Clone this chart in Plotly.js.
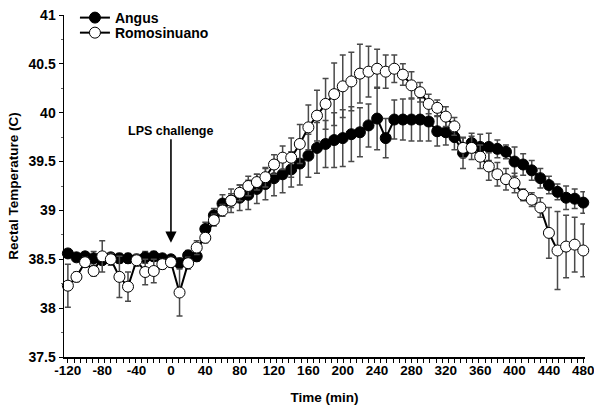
<!DOCTYPE html>
<html>
<head>
<meta charset="utf-8">
<script src="https://cdn.plot.ly/plotly-3.0.1.min.js"></script>
<style>
html,body{margin:0;padding:0;background:#fff;}
#chart{width:594px;height:415px;}
</style>
</head>
<body>
<div id="chart"></div>
<script>
const timeMin = [-120,-110,-100,-90,-80,-70,-60,-50,-40,-30,-20,-10,0,10,20,30,40,50,60,70,80,90,100,110,120,130,140,150,160,170,180,190,200,210,220,230,240,250,260,270,280,290,300,310,320,330,340,350,360,370,380,390,400,410,420,430,440,450,460,470,480];

const angusTemp = [38.56,38.52,38.53,38.51,38.49,38.52,38.51,38.51,38.50,38.52,38.53,38.51,38.50,38.46,38.54,38.53,38.81,38.95,39.07,39.10,39.13,39.16,39.22,39.27,39.33,39.37,39.42,39.48,39.56,39.64,39.68,39.72,39.74,39.78,39.80,39.87,39.94,39.74,39.93,39.93,39.93,39.93,39.91,39.81,39.80,39.75,39.59,39.69,39.65,39.65,39.63,39.60,39.50,39.47,39.41,39.33,39.26,39.19,39.13,39.12,39.08];
const angusSE = [0.04,0.04,0.03,0.07,0.04,0.04,0.05,0.05,0.04,0.06,0.05,0.04,0.04,0.05,0.05,0.05,0.07,0.07,0.09,0.12,0.13,0.15,0.15,0.16,0.18,0.19,0.18,0.22,0.22,0.26,0.24,0.28,0.29,0.28,0.25,0.22,0.32,0.20,0.20,0.21,0.22,0.22,0.20,0.15,0.13,0.13,0.16,0.10,0.13,0.14,0.09,0.07,0.15,0.11,0.10,0.10,0.09,0.08,0.12,0.10,0.11];

const romoTemp = [38.23,38.32,38.47,38.38,38.53,38.50,38.32,38.22,38.49,38.37,38.38,38.45,38.47,38.16,38.46,38.62,38.72,38.90,39.00,39.10,39.18,39.25,39.29,39.34,39.47,39.54,39.54,39.68,39.85,39.97,40.09,40.19,40.27,40.32,40.40,40.42,40.45,40.42,40.45,40.39,40.28,40.21,40.09,40.05,39.96,39.86,39.64,39.64,39.55,39.45,39.37,39.32,39.28,39.16,39.11,39.03,38.77,38.59,38.63,38.65,38.59];
const romoSE = [0.22,0.05,0.05,0.05,0.16,0.06,0.21,0.15,0.06,0.13,0.12,0.05,0.05,0.24,0.06,0.07,0.05,0.06,0.06,0.07,0.08,0.10,0.08,0.10,0.10,0.12,0.20,0.20,0.23,0.26,0.26,0.32,0.32,0.30,0.30,0.26,0.20,0.17,0.14,0.11,0.14,0.10,0.10,0.08,0.10,0.09,0.10,0.12,0.12,0.14,0.12,0.11,0.10,0.06,0.07,0.10,0.26,0.40,0.32,0.28,0.27];

const seriesNames = ["Angus", "Romosinuano"];
const xTickVals = [-120,-80,-40,0,40,80,120,160,200,240,280,320,360,400,440,480];
const xTickText = ["-120","-80","-40","0","40","80","120","160","200","240","280","320","360","400","440","480"];
const yTickVals = [37.5,38,38.5,39,39.5,40,40.5,41];
const yTickText = ["37.5","38","38.5","39","39.5","40","40.5","41"];

const FONT = "Liberation Sans, Arial, sans-serif";

function errBar(arr){
  return {type:'data', array:arr, visible:true, color:'#4a4a4a', thickness:1.5, width:3};
}

const traces = [
  {
    x: timeMin, y: angusTemp, name: seriesNames[0], legend:'legend',
    type:'scatter', mode:'lines+markers', cliponaxis:false,
    line:{color:'#000', width:2},
    marker:{symbol:'circle', size:11, color:'#000', line:{color:'#000', width:1}},
    error_y: errBar(angusSE)
  },
  {
    x: timeMin, y: romoTemp, name: seriesNames[1], legend:'legend2',
    type:'scatter', mode:'lines+markers', cliponaxis:false,
    line:{color:'#000', width:2},
    marker:{symbol:'circle', size:11, color:'#fff', line:{color:'#000', width:1}},
    error_y: errBar(romoSE)
  }
];

const legendFont = {family:FONT, size:14, color:'#000', weight:'bold'};
const layout = {
  width:594, height:415,
  margin:{l:64, r:9, t:15, b:58, pad:0, autoexpand:false},
  paper_bgcolor:'#fff', plot_bgcolor:'#fff',
  font:{family:FONT, size:12, color:'#000'},
  showlegend:true,
  legend:{
    x:0.021, y:1.038, xanchor:'left', yanchor:'top',
    bgcolor:'rgba(0,0,0,0)', borderwidth:0, font:legendFont, itemwidth:30
  },
  legend2:{
    x:0.021, y:0.994, xanchor:'left', yanchor:'top',
    bgcolor:'rgba(0,0,0,0)', borderwidth:0, font:legendFont, itemwidth:30
  },
  xaxis:{
    range:[-124.5, 482],
    showline:true, linecolor:'#000', linewidth:1.5,
    zeroline:false, showgrid:false,
    tickmode:'array', tickvals:xTickVals, ticktext:xTickText,
    ticks:'', ticklabeloverflow:'allow',
    tickfont:{family:FONT, size:13.5, color:'#000', weight:'bold'},
    minor:{tick0:-120, dtick:600/84, ticks:'outside', ticklen:4, tickwidth:1, tickcolor:'#000', showgrid:false},
    title:{text:'Time (min)', font:{family:FONT, size:13.5, color:'#000', weight:'bold'}, standoff:16}
  },
  yaxis:{
    range:[37.5, 41],
    showline:true, linecolor:'#000', linewidth:1.5,
    zeroline:false, showgrid:false,
    tickmode:'array', tickvals:yTickVals, ticktext:yTickText,
    ticks:'outside', ticklen:4, tickwidth:1, tickcolor:'#000',
    tickfont:{family:FONT, size:14, color:'#000', weight:'bold'},
    minor:{dtick:0.25, tick0:37.5, ticks:'outside', ticklen:2, tickwidth:1, tickcolor:'#666', showgrid:false},
    title:{text:'Rectal Temperature (C)', font:{family:FONT, size:13.5, color:'#000', weight:'bold'}, standoff:6}
  },
  annotations:[
    {
      x:0, y:38.67, xref:'x', yref:'y',
      text:'<b>LPS challenge</b>',
      showarrow:true, arrowhead:2, arrowsize:1.4, arrowwidth:1.6, arrowcolor:'#000',
      ax:0, ay:-112,
      font:{family:FONT, size:12.5, color:'#000'}
    }
  ]
};

Plotly.newPlot('chart', traces, layout, {displayModeBar:false, staticPlot:true});
</script>
</body>
</html>
